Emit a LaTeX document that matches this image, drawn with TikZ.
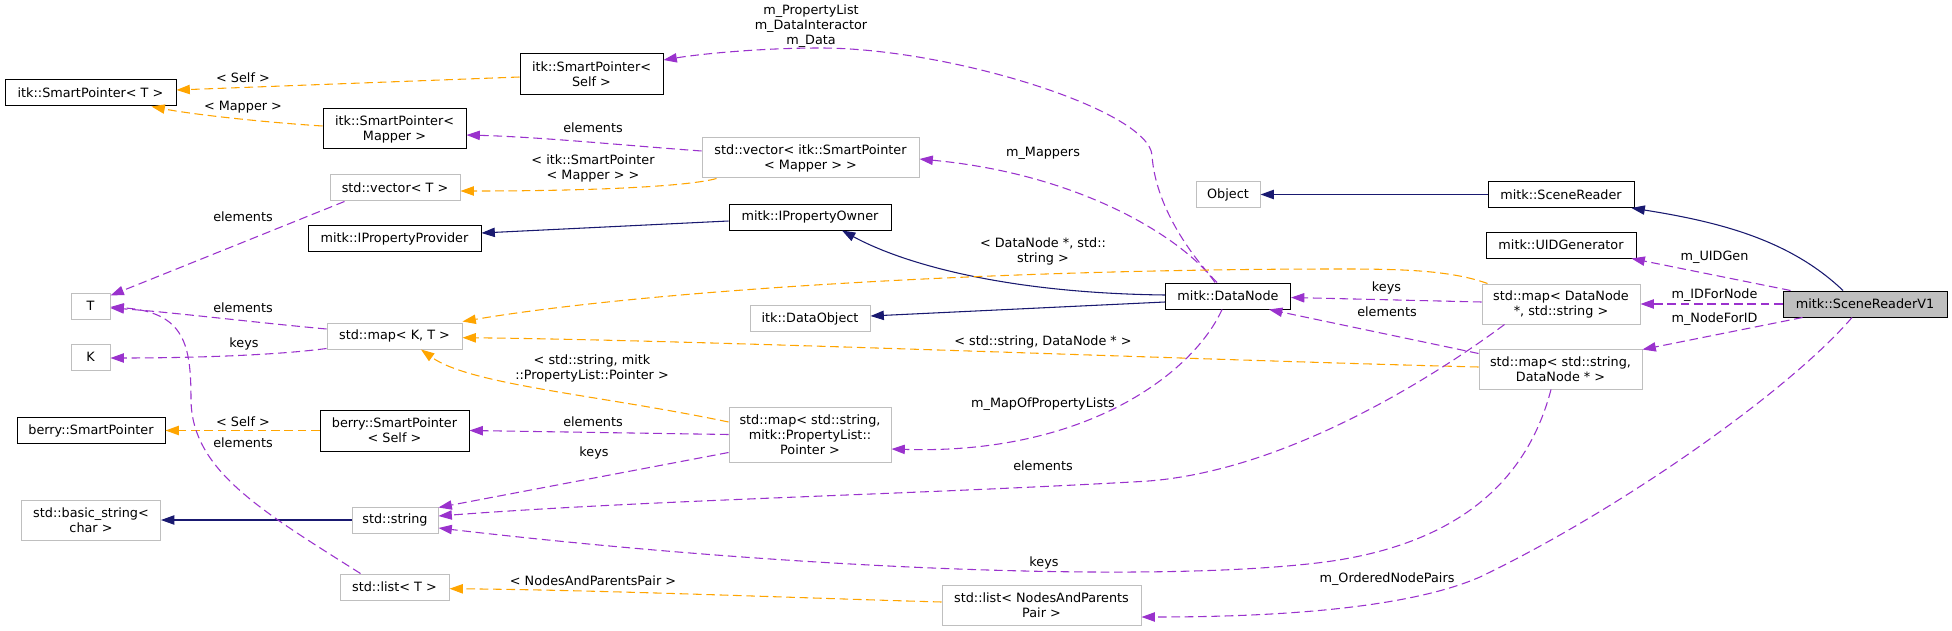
\documentclass[tikz,border=0pt]{standalone}
\usepackage{fontspec}
\setmainfont{DejaVu Sans}
\usetikzlibrary{arrows.meta,calc}
\definecolor{purp}{HTML}{9A32CD}
\definecolor{orng}{HTML}{FFA500}
\definecolor{navyc}{HTML}{191970}
\definecolor{greyL}{HTML}{BFBFBF}
\begin{document}
\begin{tikzpicture}[x=0.75pt,y=-0.75pt,
  box/.style={draw=black, line width=0.75pt, fill=white, inner sep=0pt, align=center, font=\fontsize{9.6}{11.25}\selectfont},
  ubox/.style={box, draw=greyL},
  rootbox/.style={box, fill=greyL},
  lbl/.style={inner sep=0pt, align=center, font=\fontsize{9.6}{11.25}\selectfont},
  arr/.style={-{Triangle[length=10pt,width=7pt]}},
  usage/.style={draw=purp, line width=0.8pt, dash pattern=on 6.5pt off 3.5pt, arr},
  tmpl/.style={draw=orng, line width=0.8pt, dash pattern=on 6.5pt off 3.5pt, arr},
  inh/.style={draw=navyc, line width=0.8pt, arr},
]
\useasboundingbox (0,0) rectangle (1952,631);
\fill[white] (0,0) rectangle (1952,631);

% nodes
\node[box, minimum width=128.25pt, minimum height=19.5pt] (spT) at (90.5,93) {itk::SmartPointer< T >};
\node[box, minimum width=107.25pt, minimum height=30.75pt] (spSelf) at (591.5,74.5) {itk::SmartPointer<\\Self >};
\node[box, minimum width=107.25pt, minimum height=30pt] (spMapper) at (394.5,129) {itk::SmartPointer<\\Mapper >};
\node[ubox, minimum width=97.5pt, minimum height=19.5pt] (vecT) at (395,188) {std::vector< T >};
\node[box, minimum width=129.75pt, minimum height=19.5pt] (propProv) at (394.5,238.5) {mitk::IPropertyProvider};
\node[ubox, minimum width=29.25pt, minimum height=19.5pt] (T) at (90.5,306) {T};
\node[ubox, minimum width=101.25pt, minimum height=19.5pt] (mapKT) at (394.5,336) {std::map< K, T >};
\node[ubox, minimum width=29.25pt, minimum height=19.5pt] (K) at (90.5,357) {K};
\node[box, minimum width=111pt, minimum height=19.5pt] (berrySP) at (91,430.5) {berry::SmartPointer};
\node[box, minimum width=111.75pt, minimum height=30.75pt] (berrySelf) at (394.5,430.5) {berry::SmartPointer\\< Self >};
\node[ubox, minimum width=104.25pt, minimum height=30pt] (basicStr) at (91,520) {std::basic\_string<\\char >};
\node[ubox, minimum width=64.5pt, minimum height=19.5pt] (stdStr) at (395,520) {std::string};
\node[ubox, minimum width=81.75pt, minimum height=19.5pt] (listT) at (394.5,587) {std::list< T >};
\node[ubox, minimum width=162.75pt, minimum height=30pt] (vecSP) at (810.5,158) {std::vector< itk::SmartPointer\\< Mapper > >};
\node[box, minimum width=121.5pt, minimum height=19.5pt] (propOwner) at (810,217) {mitk::IPropertyOwner};
\node[ubox, minimum width=90pt, minimum height=19.5pt] (dataObj) at (810,318.5) {itk::DataObject};
\node[ubox, minimum width=121.5pt, minimum height=41.25pt] (mapPL) at (810,434.5) {std::map< std::string,\\mitk::PropertyList::\\Pointer >};
\node[ubox, minimum width=48pt, minimum height=19.5pt] (Object) at (1228,194.5) {Object};
\node[box, minimum width=93.75pt, minimum height=19.5pt] (DataNode) at (1228,296) {mitk::DataNode};
\node[ubox, minimum width=149.25pt, minimum height=30pt] (listNP) at (1041.5,605) {std::list< NodesAndParents\\Pair >};
\node[box, minimum width=109.5pt, minimum height=19.5pt] (SceneReader) at (1561,194.5) {mitk::SceneReader};
\node[box, minimum width=112.5pt, minimum height=19.5pt] (UIDGen) at (1561,245) {mitk::UIDGenerator};
\node[ubox, minimum width=118.5pt, minimum height=30pt] (mapDNS) at (1561,304) {std::map< DataNode\\*, std::string >};
\node[ubox, minimum width=122.25pt, minimum height=30pt] (mapSDN) at (1560.5,369) {std::map< std::string,\\DataNode * >};
\node[rootbox, minimum width=123pt, minimum height=19.5pt] (SRV1) at (1865,304) {mitk::SceneReaderV1};

% edges
\draw[tmpl] ($(spSelf.west)+(0,2.5)$) -- ($(spT.east)+(0,-3)$);
\draw[tmpl] ($(spMapper.west)+(0,-3)$) .. controls (260,122) and (190,114) .. ($(spT.south east)+(-25,0)$);
\draw[usage] ($(vecSP.west)+(0,-7)$) .. controls (620,145) and (540,137) .. ($(spMapper.east)+(0,6)$);
\draw[tmpl] ($(vecSP.south west)+(15,0)$) .. controls (690,186) and (600,191) .. ($(vecT.east)+(0,3)$);
\draw[usage] ($(vecT.south west)+(15,0)$) -- ($(T.north east)+(0,3)$);
\draw[inh] ($(propOwner.west)+(0,4)$) -- ($(propProv.east)+(0,-5.5)$);
\draw[inh] ($(DataNode.west)+(0,-1)$) .. controls (1000,293) and (900,262) .. ($(propOwner.south)+(32,0)$);
\draw[inh] ($(DataNode.west)+(0,6)$) -- ($(dataObj.east)+(0,-2.5)$);
\draw[usage] ($(DataNode.north)+(-11,0)$) .. controls (1190,255) and (1155,205) .. (1152,155) .. controls (1148,110) and (950,48) .. (820,48) .. controls (760,48) and (700,54) .. ($(spSelf.east)+(0,-14.5)$);
\draw[usage] ($(DataNode.north)+(-13,0)$) .. controls (1190,245) and (1090,175) .. ($(vecSP.east)+(0,1)$);
\draw[usage] ($(DataNode.south)+(-6,0)$) .. controls (1195,370) and (1090,455) .. ($(mapPL.east)+(0,14.5)$);
\draw[usage] ($(mapDNS.west)+(0,-2)$) -- ($(DataNode.east)+(0,1.5)$);
\draw[usage] ($(mapSDN.north west)+(0,5)$) -- ($(DataNode.south east)+(-22,0)$);
\draw[tmpl] ($(mapDNS.north west)+(6,0)$) .. controls (1450,270) and (1400,269) .. (1340,269) .. controls (1000,269) and (650,290) .. ($(mapKT.north east)+(0,-1)$);
\draw[tmpl] ($(mapSDN.west)+(0,-2)$) .. controls (1200,360) and (700,340) .. ($(mapKT.east)+(0,1.7)$);
\draw[tmpl] ($(mapPL.west)+(0,-12.5)$) .. controls (600,395) and (470,385) .. ($(mapKT.south)+(26.5,0)$);
\draw[usage] (mapPL.west) -- (berrySelf.east);
\draw[usage] ($(mapPL.south west)+(0,-10)$) -- ($(stdStr.north east)+(0,1)$);
\draw[usage] ($(mapDNS.south west)+(23,0)$) .. controls (1450,365) and (1291,473) .. (1141,481.5) .. controls (900,495) and (650,500) .. ($(stdStr.east)+(0,-4)$);
\draw[usage] ($(mapSDN.south)+(-9.5,0)$) .. controls (1530,470) and (1470,545) .. (1317,563) .. controls (1150,582.6) and (800,570) .. ($(stdStr.east)+(0,8)$);
\draw[tmpl] (berrySelf.west) -- (berrySP.east);
\draw[inh] (stdStr.west) -- (basicStr.east);
\draw[usage] ($(mapKT.west)+(0,-7)$) .. controls (250,322) and (170,312) .. ($(T.east)+(0,2)$);
\draw[usage] ($(mapKT.south west)+(0,-1)$) .. controls (270,356) and (180,358) .. ($(K.east)+(0,1)$);
\draw[usage] ($(listT.north west)+(21,0)$) .. controls (260,510) and (192,470) .. (191,400) .. controls (191,345) and (185,312) .. ($(T.east)+(0,1)$);
\draw[tmpl] ($(listNP.west)+(0,-3)$) .. controls (800,598) and (600,590) .. ($(listT.east)+(0,1.7)$);
\draw[usage] ($(SRV1.south)+(-13,0)$) .. controls (1790,390) and (1620,510) .. (1480,577) .. controls (1400,612) and (1250,617) .. ($(listNP.east)+(0,12)$);
\draw[inh] ($(SRV1.north)+(-22,0)$) .. controls (1790,240) and (1720,222) .. ($(SceneReader.south east)+(-3,0)$);
\draw[inh] (SceneReader.west) -- (Object.east);
\draw[usage] ($(SRV1.north west)+(8,0)$) -- ($(UIDGen.south east)+(-5,0)$);
\draw[usage] (SRV1.west) -- (mapDNS.east);
\draw[usage] ($(SRV1.south west)+(20,0)$) -- ($(mapSDN.north east)+(0,1)$);

% labels
\node[lbl] (l1) at (243,78) {< Self >};
\node[lbl] (l2) at (243,107) {< Mapper >};
\node[lbl] (l3) at (593,128) {elements};
\node[lbl] (l4) at (593,168.5) {< itk::SmartPointer\\< Mapper > >};
\node[lbl] (l5) at (243,217) {elements};
\node[lbl] (l6) at (811,26.5) {m\_PropertyList\\m\_DataInteractor\\m\_Data};
\node[lbl] (l7) at (1043,153) {m\_Mappers};
\node[lbl] (l8) at (1043,251.5) {< DataNode *, std::\\string >};
\node[lbl] (l9) at (243,308) {elements};
\node[lbl] (l10) at (244,344) {keys};
\node[lbl] (l11) at (592,368.5) {< std::string, mitk\\::PropertyList::Pointer >};
\node[lbl] (l12) at (1043,342) {< std::string, DataNode * >};
\node[lbl] (l13) at (1043,404) {m\_MapOfPropertyLists};
\node[lbl] (l14) at (243,422) {< Self >};
\node[lbl] (l15) at (243,443) {elements};
\node[lbl] (l16) at (593,422) {elements};
\node[lbl] (l17) at (594,453) {keys};
\node[lbl] (l18) at (1043,466) {elements};
\node[lbl] (l19) at (1044,563) {keys};
\node[lbl] (l20) at (593,581) {< NodesAndParentsPair >};
\node[lbl] (l21) at (1387,579) {m\_OrderedNodePairs};
\node[lbl] (l22) at (1386.5,288) {keys};
\node[lbl] (l23) at (1387,312) {elements};
\node[lbl] (l24) at (1714.5,257) {m\_UIDGen};
\node[lbl] (l25) at (1714.5,295) {m\_IDForNode};
\node[lbl] (l26) at (1714.5,319) {m\_NodeForID};
\end{tikzpicture}
\end{document}
